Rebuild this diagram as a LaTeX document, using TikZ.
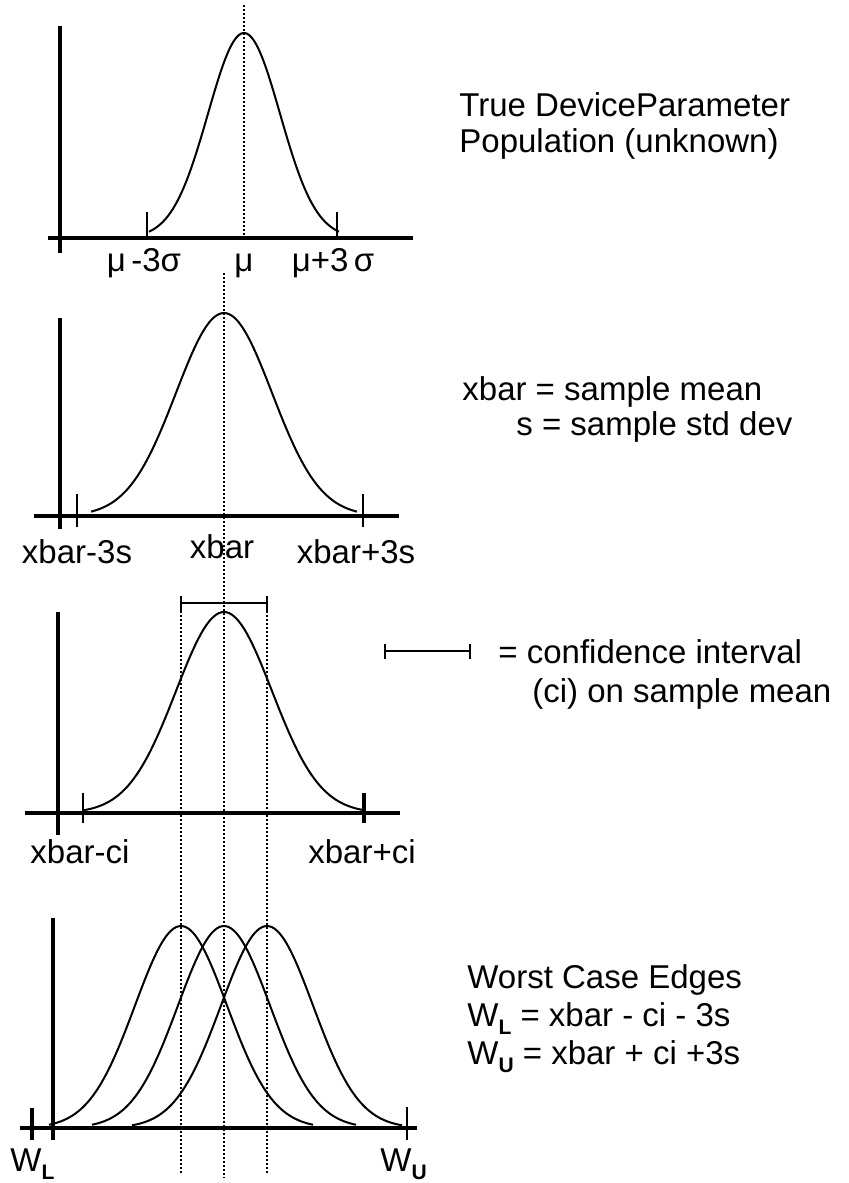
\documentclass[tikz,border=0pt]{standalone}
\usepackage{fontspec}
\setmainfont{Liberation Sans}
\usetikzlibrary{positioning}
\definecolor{BellInk}{HTML}{000000}
\newcommand\bellfont{\fontsize{16.5}{19}\selectfont}
\newcommand\wsub[1]{\raisebox{-4pt}{\fontsize{10.5}{10.5}\selectfont\bfseries #1}}
% one bell: centre, axis, height, sigma, half span
\newcommand\bell[5]{%
  \draw[bellcurve] plot[domain=-#5:#5, samples=90, smooth]
    ({#1+\x}, {#2-#3*exp(-0.5*(\x/#4)^2)});}
\tikzset{
  bellaxis/.style={draw=BellInk, line width=2.2pt},
  belltick/.style={draw=BellInk, line width=1pt},
  belltickbold/.style={draw=BellInk, line width=2pt},
  bellcurve/.style={draw=BellInk, line width=1pt, line join=round},
  bellguide/.style={draw=BellInk, line width=0.7pt, dash pattern=on 0.8pt off 1.2pt},
  belllabel/.style={anchor=base, inner sep=0pt, font=\bellfont, text=BellInk},
  bellnote/.style={anchor=base west, inner sep=0pt, align=left, font=\bellfont, text=BellInk}
}

\begin{document}
\begin{tikzpicture}[x=0.5pt, y=-0.5pt]
  \useasboundingbox (0,0) rectangle (849,1183);

  % guides
  \draw[bellguide] (244,5) -- (244,240);
  \draw[bellguide] (224,273) -- (224,1178);
  \draw[bellguide] (181,615) -- (181,1173);
  \draw[bellguide] (267,615) -- (267,1173);

  % true population
  \bell{244}{238}{205}{36}{95}
  \draw[bellaxis] (60,26) -- (60,253);
  \draw[bellaxis] (48,238) -- (413,238);
  \draw[belltick] (147,212) -- (147,238);
  \draw[belltick] (337,212) -- (337,238);
  \node[belllabel] (popLow) at (144,271) {μ\,-3σ};
  \node[belllabel] (popMid) at (244,271) {μ};
  \node[belllabel] (popHigh) at (333,271) {μ+3\,σ};
  \node[bellnote] (popNote) at (459,152) {True DeviceParameter\\[-1pt]Population (unknown)};

  % sample
  \bell{224}{516}{203}{48}{133}
  \draw[bellaxis] (60,318) -- (60,529);
  \draw[bellaxis] (34,516) -- (399,516);
  \draw[belltick] (77,494) -- (77,527);
  \draw[belltick] (363,494) -- (363,527);
  \node[belllabel] (sampLow) at (77,563) {xbar-3s};
  \node[belllabel] (sampMid) at (222,558) {xbar};
  \node[belllabel] (sampHigh) at (356,563) {xbar+3s};
  \node[bellnote] (sampNote) at (462,435)
    {xbar = sample mean\\[-1.5pt]\hspace*{27pt}s = sample std dev};

  % confidence interval
  \bell{224}{813}{201}{48}{140}
  \draw[bellaxis] (58,612) -- (58,835);
  \draw[bellaxis] (25,813) -- (400,813);
  \draw[belltick] (83,793) -- (83,823);
  \draw[belltickbold] (364,793) -- (364,823);
  \draw[belltick, line width=1.3pt] (181,603) -- (267,603);
  \draw[belltick, line width=1.3pt] (181,596) -- (181,613);
  \draw[belltick, line width=1.3pt] (267,596) -- (267,613);
  \node[belllabel] (ciLow) at (80,863) {xbar-ci};
  \node[belllabel] (ciHigh) at (362,863) {xbar+ci};
  \draw[belltick, line width=0.6pt] (385,651) -- (470,651);
  \draw[belltick, line width=0.6pt] (385,644) -- (385,659);
  \draw[belltick, line width=0.6pt] (470,644) -- (470,659);
  \node[bellnote] (ciNote) at (498,702)
    {= confidence interval\\[0.5pt]\hspace*{17pt}(ci) on sample mean};

  % worst case
  \bell{181}{1128}{202}{46}{132}
  \bell{224}{1128}{202}{46}{132}
  \bell{267}{1128}{202}{46}{135}
  \draw[bellaxis] (53,918) -- (53,1140);
  \draw[bellaxis] (20,1128) -- (417,1128);
  \draw[belltickbold] (32,1108) -- (32,1140);
  \draw[belltick] (407,1107) -- (407,1140);
  \node[bellnote] (wLow) at (10,1171) {W\wsub{L}};
  \node[bellnote] (wHigh) at (380,1171) {W\wsub{U}};
  \node[bellnote] (worstNote) at (467,1064)
    {Worst Case Edges\\W\wsub{L} = xbar - ci - 3s\\W\wsub{U} = xbar + ci +3s};
\end{tikzpicture}
\end{document}
